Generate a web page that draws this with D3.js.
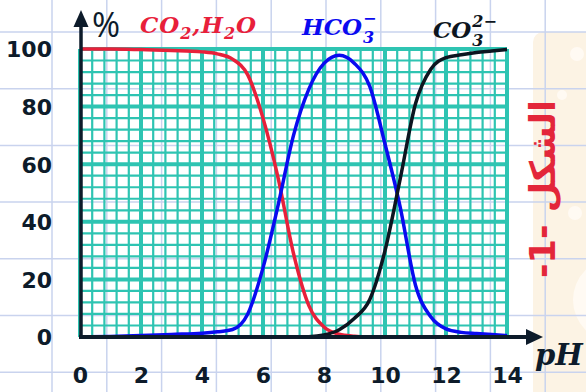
<!DOCTYPE html>
<html lang="ar">
<head>
<meta charset="UTF-8" />
<title>Carbonate species vs pH</title>
<script src="https://d3js.org/d3.v7.min.js"></script>
<style>
  body { margin: 0; background: #fff; }
  .tick text { font-family: "DejaVu Sans", sans-serif; font-weight: bold; font-size: 22px; fill: #0d1b2a; }
</style>
</head>
<body>
<svg width="586" height="392"></svg>
<script>
const width = 586;
const height = 392;

// pH values where the curves were read
const pH = [0, 1, 2, 3, 4, 4.5, 5, 5.5, 6, 6.5, 7, 7.5, 8, 8.5, 9, 9.5, 10, 10.5, 11, 11.5, 12, 12.5, 13, 13.5, 14];
// percentage of each species
const co2 = [100, 100, 99.8, 99.5, 99, 98.3, 96.5, 91, 76, 55, 29, 11, 3.5, 1, 0.3, 0, 0, 0, 0, 0, 0, 0, 0, 0, 0];
const hco3 = [0, 0.2, 0.5, 0.9, 1.3, 1.8, 2.6, 8, 24, 46, 70, 86, 95, 97.8, 95, 87, 67, 45, 18, 7, 2.8, 1.6, 1.2, 0.9, 0.5];
const co3 = [0, 0, 0, 0, 0, 0, 0, 0, 0, 0, 0, 0.1, 0.7, 2.5, 6.5, 13, 30, 55, 81, 93, 97, 98, 98.8, 99.3, 99.8];

const xTicks = [0, 2, 4, 6, 8, 10, 12, 14];
const yTicks = [0, 20, 40, 60, 80, 100];

const svg = d3.select("svg");

const x = d3.scaleLinear().domain([0, 14]).range([80, 507]);
const y = d3.scaleLinear().domain([0, 100]).range([337, 49]);

// notebook paper background
svg.append("rect")
  .attr("x", 533).attr("y", 32).attr("width", 70).attr("height", 380)
  .attr("rx", 10).attr("fill", "#fcf3e4");
const dots = [[577, 54, 7], [562, 95, 5], [575, 213, 7], [615, 300, 42]];
svg.append("g").selectAll("circle").data(dots).join("circle")
  .attr("cx", d => d[0]).attr("cy", d => d[1]).attr("r", d => d[2])
  .attr("fill", "#fffaf3");

const paper = svg.append("g").attr("stroke", "#c9d3ee").attr("stroke-width", 1.5);
paper.selectAll("line.v").data(d3.range(52, width, 54.8)).join("line")
  .attr("x1", d => d).attr("x2", d => d).attr("y1", 0).attr("y2", height);
paper.selectAll("line.h").data(d3.range(32, height, 56.7)).join("line")
  .attr("y1", d => d).attr("y2", d => d).attr("x1", 0).attr("x2", width);

// teal millimetre grid
const grid = svg.append("g").attr("stroke", "#2ec4b2");
const vMinor = d3.range(0, 14.01, 0.4).map(v => +v.toFixed(1));
grid.selectAll("line.v").data(vMinor).join("line")
  .attr("x1", d => x(d)).attr("x2", d => x(d))
  .attr("y1", y(100)).attr("y2", y(0))
  .attr("stroke-width", d => (Math.abs(d % 2) < 0.01 ? 4 : 2.2));
grid.selectAll("line.h").data(d3.range(0, 100.1, 4)).join("line")
  .attr("y1", d => y(d)).attr("y2", d => y(d))
  .attr("x1", x(0)).attr("x2", x(14))
  .attr("stroke-width", d => (d % 20 === 0 ? 4 : 2.2));

// curves
const line = d3.line()
  .x((d, i) => x(pH[i]))
  .y(d => y(d))
  .curve(d3.curveMonotoneX);

const series = [
  { values: co2, color: "#e8203a" },
  { values: hco3, color: "#0a0af0" },
  { values: co3, color: "#0d1520" },
];
svg.append("g").selectAll("path").data(series).join("path")
  .attr("d", d => line(d.values))
  .attr("fill", "none")
  .attr("stroke", d => d.color)
  .attr("stroke-width", 3.5)
  .attr("stroke-linejoin", "round");

// axes with arrows
const ink = "#0d1b2a";
svg.append("line").attr("x1", 81).attr("x2", 81).attr("y1", 339).attr("y2", 22)
  .attr("stroke", ink).attr("stroke-width", 3.5);
svg.append("path").attr("d", "M81,10 L73.5,27 L88.5,27 Z").attr("fill", ink);
svg.append("line").attr("x1", 79).attr("x2", 530).attr("y1", 337).attr("y2", 337)
  .attr("stroke", ink).attr("stroke-width", 4);
svg.append("path").attr("d", "M543,337 L526,329 L526,345 Z").attr("fill", ink);

const yAxis = svg.append("g")
  .attr("transform", `translate(${x(0)},0)`)
  .call(d3.axisLeft(y).tickValues(yTicks).tickSize(0).tickPadding(28));
yAxis.select(".domain").remove();
yAxis.selectAll("text").attr("dy", "0.36em");

const xAxis = svg.append("g")
  .attr("transform", `translate(0,${y(0)})`)
  .call(d3.axisBottom(x).tickValues(xTicks).tickSize(0).tickPadding(0));
xAxis.select(".domain").remove();
xAxis.selectAll("text").attr("y", 46).attr("dy", null);

// labels
svg.append("text").attr("x", 92).attr("y", 37)
  .attr("font-family", "Open Sans, sans-serif").attr("font-size", 34)
  .attr("fill", ink).text("%");

const serif = "DejaVu Serif, serif";
const co2Label = svg.append("text").attr("x", 140).attr("y", 33)
  .attr("font-family", serif).attr("font-style", "italic").attr("font-weight", "bold")
  .attr("font-size", 23).attr("fill", "#e8203a")
  .attr("textLength", 116).attr("lengthAdjust", "spacing");
co2Label.append("tspan").text("CO");
co2Label.append("tspan").attr("dy", 6).attr("font-size", 16).text("2");
co2Label.append("tspan").attr("dy", -6).text(",H");
co2Label.append("tspan").attr("dy", 6).attr("font-size", 16).text("2");
co2Label.append("tspan").attr("dy", -6).text("O");

function ionLabel(x0, yb, main, sub, sup, color) {
  const g = svg.append("g").attr("fill", color)
    .attr("font-family", serif).attr("font-style", "italic").attr("font-weight", "bold");
  const t = g.append("text").attr("x", x0).attr("y", yb).attr("font-size", 23).text(main);
  const w = t.node().getComputedTextLength();
  g.append("text").attr("x", x0 + w + 1).attr("y", yb + 8).attr("font-size", 16).text(sub);
  g.append("text").attr("x", x0 + w + 1).attr("y", yb - 11).attr("font-size", 16).text(sup);
}
ionLabel(302, 35, "HCO", "3", "\u2212", "#0a0af0");
ionLabel(433, 38, "CO", "3", "2\u2212", "#0d1520");

svg.append("text").attr("x", 535).attr("y", 365)
  .attr("font-family", serif).attr("font-style", "italic").attr("font-weight", "bold")
  .attr("font-size", 29).attr("fill", ink).text("pH");

svg.append("text")
  .attr("transform", "translate(555,189) rotate(-90)")
  .attr("text-anchor", "middle")
  .attr("direction", "rtl")
  .attr("font-family", "DejaVu Sans, sans-serif").attr("font-weight", "bold")
  .attr("font-size", 35).attr("fill", "#e3263a")
  .text("الشكل -1-");
</script>
</body>
</html>
